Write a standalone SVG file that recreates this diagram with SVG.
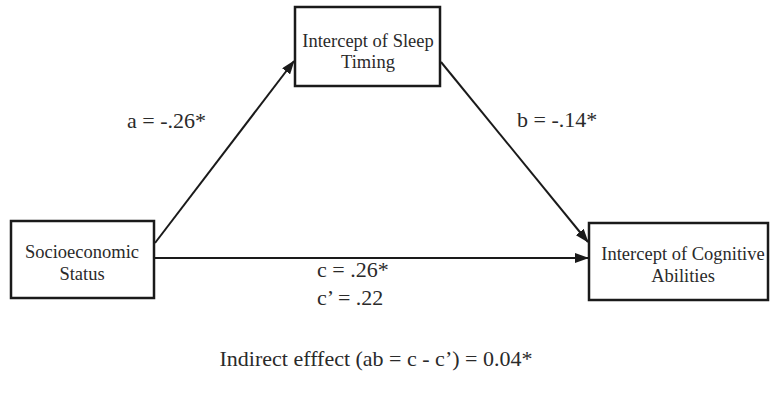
<svg xmlns="http://www.w3.org/2000/svg" width="771" height="393" viewBox="0 0 771 393">
<defs>
<marker id="ah" markerWidth="14" markerHeight="10" refX="13" refY="5" orient="auto" markerUnits="userSpaceOnUse">
<path d="M0,0 L14,5 L0,10 Z" fill="#1a1a1a"/>
</marker>
</defs>
<style>
.box{fill:#fff;stroke:#1a1a1a;stroke-width:2.5}
.nt{font-family:"Liberation Serif",serif;font-size:18.5px;fill:#2a2a2a;text-anchor:middle}
.lb{font-family:"Liberation Serif",serif;font-size:22px;fill:#2a2a2a}
.ln{stroke:#1a1a1a;stroke-width:2;fill:none;marker-end:url(#ah)}
</style>
<rect width="771" height="393" fill="#fff"/>
<g id="connectors">
<line class="ln" x1="155" y1="243" x2="294" y2="61"/>
<line class="ln" x1="441" y1="62" x2="588" y2="242"/>
<line class="ln" x1="155" y1="258" x2="588" y2="258"/>
</g>
<g id="sleep">
<rect class="box" x="295" y="7" width="145" height="79"/>
<text class="nt" x="368" y="47">Intercept of Sleep</text>
<text class="nt" x="368" y="68">Timing</text>
</g>
<g id="ses">
<rect class="box" x="11" y="221" width="143" height="77"/>
<text class="nt" x="82" y="258">Socioeconomic</text>
<text class="nt" x="82" y="280">Status</text>
</g>
<g id="cog">
<rect class="box" x="589" y="223" width="179" height="77"/>
<text class="nt" x="683" y="260">Intercept of Cognitive</text>
<text class="nt" x="683" y="282">Abilities</text>
</g>
<g id="labels">
<text class="lb" x="127" y="128">a = -.26*</text>
<text class="lb" x="517" y="127">b = -.14*</text>
<text class="lb" x="317" y="277">c = .26*</text>
<text class="lb" x="317" y="305">c’ = .22</text>
<text class="lb" x="376" y="366" text-anchor="middle" font-size="22.5">Indirect efffect (ab = c - c’) = 0.04*</text>
</g>
</svg>
